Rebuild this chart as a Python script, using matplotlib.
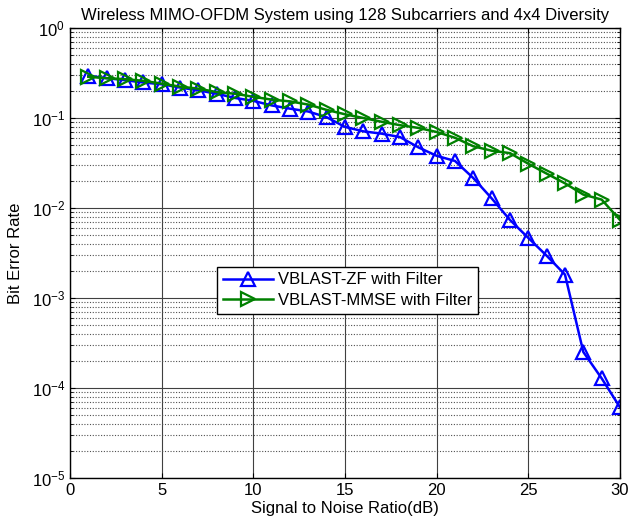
# BER vs SNR for VBLAST-ZF / VBLAST-MMSE, MATLAB-style look
import matplotlib
matplotlib.use('Agg')
import matplotlib.pyplot as plt
from matplotlib.ticker import LogLocator, NullFormatter

plt.rcParams['font.family'] = ['Liberation Sans', 'DejaVu Sans']
plt.rcParams['mathtext.fontset'] = 'custom'
plt.rcParams['mathtext.rm'] = 'Liberation Sans'
plt.rcParams['mathtext.it'] = 'Liberation Sans'

snr = list(range(1, 31))
ber_zf = [0.295, 0.277, 0.263, 0.248, 0.237, 0.218, 0.203, 0.186, 0.167, 0.155,
          0.138, 0.127, 0.118, 0.102, 0.0796, 0.0711, 0.067, 0.0614, 0.0472, 0.038,
          0.0333, 0.0215, 0.0128, 0.00736, 0.00465, 0.00295, 0.00182, 0.000251,
          0.000128, 6.1e-5]
ber_mmse = [0.287, 0.277, 0.270, 0.259, 0.241, 0.223, 0.212, 0.194, 0.186, 0.172,
            0.160, 0.153, 0.141, 0.123, 0.110, 0.100, 0.0908, 0.0832, 0.0776, 0.0699,
            0.0603, 0.0485, 0.0433, 0.0407, 0.031, 0.0241, 0.0188, 0.0141, 0.0124,
            0.00736]
labels = ['VBLAST-ZF with Filter', 'VBLAST-MMSE with Filter']

fig = plt.figure(figsize=(6.32, 5.21), dpi=100)
ax = fig.add_axes([70/632, 1 - 478/521, 550/632, 450/521])

ax.semilogy(snr, ber_zf, color='#0000ff', lw=1.8, marker='^', ms=10,
            mfc='none', mec='#0000ff', mew=1.6, label=labels[0])
ax.semilogy(snr, ber_mmse, color='#008000', lw=1.8, marker='>', ms=10,
            mfc='none', mec='#008000', mew=1.6, label=labels[1])

ax.set_xlim(0, 30)
ax.set_ylim(1e-5, 1)
ax.set_xticks([0, 5, 10, 15, 20, 25, 30])
ax.yaxis.set_major_locator(LogLocator(base=10, numticks=10))
ax.yaxis.set_minor_locator(LogLocator(base=10, subs=range(2, 10), numticks=20))
ax.yaxis.set_minor_formatter(NullFormatter())

ax.grid(True, which='major', color='#404040', lw=0.8, ls='-')
ax.grid(True, which='minor', axis='y', color='#505050', lw=0.8, ls=(0, (1, 1.5)))
ax.set_axisbelow(True)

ax.tick_params(which='both', direction='in', top=True, right=True, labelsize=12)
for s in ax.spines.values():
    s.set_linewidth(1.0)

ax.set_title('Wireless MIMO-OFDM System using 128 Subcarriers and 4x4 Diversity',
             fontsize=12, pad=6)
ax.set_xlabel('Signal to Noise Ratio(dB)', fontsize=12, labelpad=2)
ax.set_ylabel('Bit Error Rate', fontsize=12, labelpad=6)

leg = ax.legend(loc='center', bbox_to_anchor=(0.505, 0.417), fontsize=12,
                fancybox=False, framealpha=1, edgecolor='black',
                handlelength=3.0, handletextpad=0.3, borderpad=0.35,
                labelspacing=0.35)
leg.get_frame().set_linewidth(1.0)

fig.savefig('out.png', dpi=100)
